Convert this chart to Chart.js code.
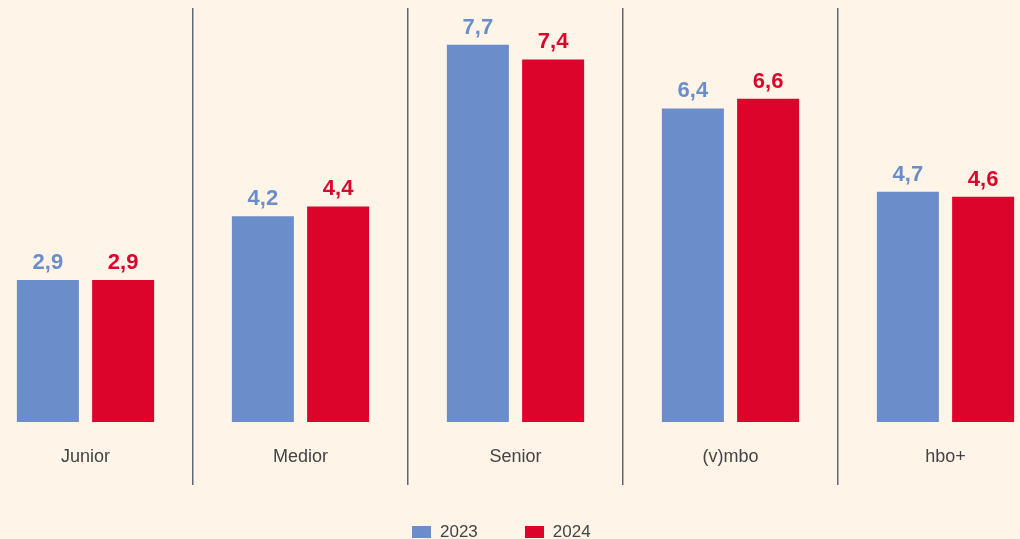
<!DOCTYPE html>
<html>
<head>
<meta charset="utf-8">
<script src="https://cdn.jsdelivr.net/npm/chart.js@4/dist/chart.umd.min.js"></script>
<style>
  html, body { margin: 0; padding: 0; background: #fff4e8; overflow: hidden; }
  #wrap { position: relative; width: 1020px; height: 539px; overflow: hidden; }
  #box { position: absolute; left: -22px; top: 0; width: 1075px; height: 539px; }
  #legenda { position: absolute; left: 412px; top: 522px; display: flex; align-items: center;
    font-family: "Liberation Sans", Arial, sans-serif; font-size: 17px; color: #444; }
  #legenda span.cor { display: inline-block; width: 19px; height: 12px; margin-right: 9px; }
  #legenda span.txt { margin-right: 47px; line-height: 20px; }
</style>
</head>
<body>
<div id="wrap">
  <div id="box"><canvas id="grafico"></canvas></div>
  <div id="legenda"></div>
</div>
<script>
const categorias = ['Junior', 'Medior', 'Senior', '(v)mbo', 'hbo+'];
const anos = ['2023', '2024'];
const valores_2023 = [2.9, 4.2, 7.7, 6.4, 4.7];
const valores_2024 = [2.9, 4.4, 7.4, 6.6, 4.6];

const azul = '#6b8dc9';
const vermelho = '#dd042c';

// rotulos de valor em cima das barras
const rotulos = {
    id: 'rotulos',
    afterDatasetsDraw(chart) {
        const ctx = chart.ctx;
        ctx.save();
        ctx.font = 'bold 22px "Liberation Sans", Arial, sans-serif';
        ctx.textAlign = 'center';
        ctx.textBaseline = 'alphabetic';
        chart.data.datasets.forEach((ds, i) => {
            chart.getDatasetMeta(i).data.forEach((bar, j) => {
                ctx.fillStyle = ds.backgroundColor;
                ctx.fillText(ds.data[j].toFixed(1).replace('.', ','), bar.x, bar.y - 11);
            });
        });
        ctx.restore();
    }
};

const ctx = document.getElementById('grafico').getContext('2d');
const grafico = new Chart(ctx, {
    type: 'bar',
    data: {
        labels: categorias,
        datasets: [
            { label: anos[0], data: valores_2023, backgroundColor: azul },
            { label: anos[1], data: valores_2024, backgroundColor: vermelho }
        ]
    },
    options: {
        responsive: true,
        maintainAspectRatio: false,
        animation: false,
        categoryPercentage: 0.7,
        barPercentage: 0.824,
        layout: { padding: { top: 8, left: 0, right: 0, bottom: 0 } },
        plugins: {
            legend: { display: false },
            tooltip: { enabled: false }
        },
        scales: {
            x: {
                afterFit: (scale) => { scale.height = 117; },
                border: { display: false },
                grid: {
                    offset: true,
                    color: '#5e6875',
                    lineWidth: 1.5,
                    tickLength: 63
                },
                ticks: {
                    padding: -39,
                    color: '#444',
                    font: { family: '"Liberation Sans", Arial, sans-serif', size: 18 }
                }
            },
            y: {
                display: false,
                min: 0,
                max: 8.45
            }
        }
    },
    plugins: [rotulos]
});

// legenda em html
const legenda = document.getElementById('legenda');
grafico.data.datasets.forEach(ds => {
    const cor = document.createElement('span');
    cor.className = 'cor';
    cor.style.background = ds.backgroundColor;
    const txt = document.createElement('span');
    txt.className = 'txt';
    txt.textContent = ds.label;
    legenda.appendChild(cor);
    legenda.appendChild(txt);
});
</script>
</body>
</html>
